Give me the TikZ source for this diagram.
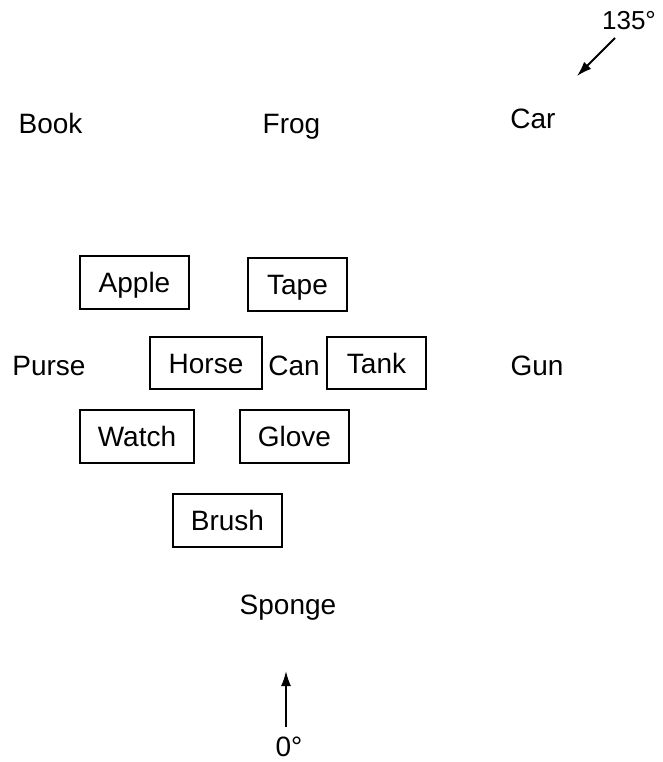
\documentclass[tikz,border=0pt]{standalone}
\usepackage{fontspec}
\setmainfont{Liberation Sans}
\usetikzlibrary{arrows.meta}
\begin{document}
\begin{tikzpicture}[x=1pt,y=-1pt,
  lbl/.style={font=\fontsize{28}{32}\selectfont, inner sep=0pt, text height=20pt, text depth=0pt},
  bx/.style={lbl, draw, line width=1.3pt},
  arr/.style={-{Latex[length=15pt,width=10pt]}, line width=1.8pt}]
\useasboundingbox (0,0) rectangle (663,762);
\node[lbl] (book) at (50.5,124) {Book};
\node[lbl] (frog) at (291.5,124) {Frog};
\node[lbl] (car) at (533,119) {Car};
\node[lbl] (purse) at (49,365) {Purse};
\node[lbl] (can) at (294,365) {Can};
\node[lbl] (gun) at (537,365) {Gun};
\node[lbl] (sponge) at (288,604) {Sponge};
\node[lbl, font=\fontsize{26}{30}\selectfont, text height=18pt] (deg135) at (629,21) {135°};
\node[lbl] (deg0) at (289,746) {0°};
\node[bx, minimum width=109pt, minimum height=53pt] (apple) at (134.5,282.5) {Apple};
\node[bx, minimum width=99pt, minimum height=53pt] (tape) at (297.5,284.5) {Tape};
\node[bx, minimum width=112pt, minimum height=52pt] (horse) at (206,363) {Horse};
\node[bx, minimum width=99pt, minimum height=52pt] (tank) at (376.5,363) {Tank};
\node[bx, minimum width=114pt, minimum height=53pt] (watch) at (137,436.5) {Watch};
\node[bx, minimum width=109pt, minimum height=53pt] (glove) at (294.5,436.5) {Glove};
\node[bx, minimum width=109pt, minimum height=53pt] (brush) at (227.5,520.5) {Brush};
\coordinate (a0s) at (286,727);
\coordinate (a0e) at (286,671);
\coordinate (a1s) at (615,38);
\coordinate (a1e) at (577,76);
\draw[arr] (a0s) -- (a0e);
\draw[arr] (a1s) -- (a1e);
\end{tikzpicture}
\end{document}
